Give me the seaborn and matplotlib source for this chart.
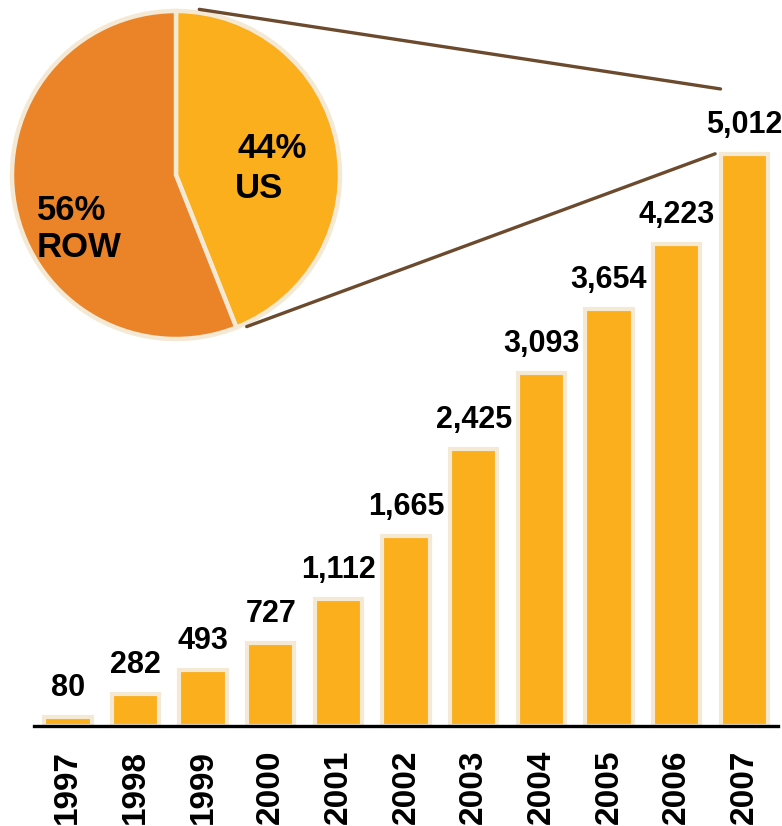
import matplotlib
matplotlib.use("Agg")
import matplotlib.pyplot as plt
import seaborn as sns
import numpy as np
from matplotlib.patches import ConnectionPatch

# Yearly totals
years = ["1997", "1998", "1999", "2000", "2001", "2002", "2003", "2004", "2005", "2006", "2007"]
totals = [80, 282, 493, 727, 1112, 1665, 2425, 3093, 3654, 4223, 5012]

# Share of the latest year
share_labels = ["US", "ROW"]
share_values = [44, 56]

BAR_COLOR = "#FBAF1D"
ROW_COLOR = "#EB8329"
EDGE_COLOR = "#F4E9D5"
LINK_COLOR = "#6B4A2E"

sns.set_style("white")
plt.rcParams["font.family"] = ["Liberation Sans", "DejaVu Sans"]
plt.rcParams["font.weight"] = "bold"
plt.rcParams["text.color"] = "black"
plt.rcParams["xtick.color"] = "black"
plt.rcParams["xtick.labelcolor"] = "black"

fig = plt.figure(figsize=(7.82, 8.26), dpi=100)

# ---- bar chart ----
ax = fig.add_axes([0.0435, 0.1211, 0.9514, 0.7712])
sns.barplot(x=years, y=totals, color=BAR_COLOR, saturation=1, width=0.7,
            edgecolor=EDGE_COLOR, linewidth=3, ax=ax)
ax.set_xlim(-0.5, len(years) - 0.5)
ax.set_ylim(0, 5580)
for s in ["top", "right", "left"]:
    ax.spines[s].set_visible(False)
ax.spines["bottom"].set_color("black")
ax.spines["bottom"].set_linewidth(2.4)
ax.spines["bottom"].set_zorder(5)
ax.set_yticks([])
ax.set_xlabel("")
ax.set_ylabel("")
ax.tick_params(axis="x", length=0, pad=17, labelcolor="black")
for lbl in ax.get_xticklabels():
    lbl.set_rotation(90)
    lbl.set_fontsize(24)
    lbl.set_fontweight("bold")
    lbl.set_color("black")
    lbl.set_va("top")
    lbl.set_ha("center")

for i, v in enumerate(totals):
    ax.annotate(f"{v:,}", xy=(i, v), xytext=(0, 15), textcoords="offset points",
                ha="center", va="baseline", fontsize=22, fontweight="bold", color="black")

# ---- pie of the latest year ----
cx, cy, r = 176, 175, 164
W, H = 782, 826
pax = fig.add_axes([(cx - r) / W, (H - cy - r) / H, 2 * r / W, 2 * r / H])
pax.pie(share_values, colors=[BAR_COLOR, ROW_COLOR], startangle=90, counterclock=False,
        radius=1, wedgeprops=dict(edgecolor=EDGE_COLOR, linewidth=3.2))
pax.set_xlim(-1, 1)
pax.set_ylim(-1, 1)
pax.set_aspect("equal")
pax.axis("off")

tkw = dict(ha="left", va="baseline", fontsize=25, fontweight="bold", color="black")
pax.text(0.372, 0.104, f"{share_values[0]}%", **tkw)
pax.text(0.36, -0.140, share_labels[0], **tkw)
pax.text(-0.848, -0.274, f"{share_values[1]}%", **tkw)
pax.text(-0.848, -0.50, share_labels[1], **tkw)

# ---- connectors from the US slice to the last bar ----
last = len(years) - 1
bar_left = last - 0.35
a_top = np.deg2rad(82)
a_bot = np.deg2rad(-65)
rr = 1.02
con1 = ConnectionPatch(xyA=(rr * np.cos(a_top), rr * np.sin(a_top)), coordsA=pax.transData,
                       xyB=(bar_left, 1.0), coordsB=ax.get_xaxis_transform(),
                       color=LINK_COLOR, linewidth=2.4)
con2 = ConnectionPatch(xyA=(rr * np.cos(a_bot), rr * np.sin(a_bot)), coordsA=pax.transData,
                       xyB=(bar_left - 0.08, totals[-1]), coordsB=ax.transData,
                       color=LINK_COLOR, linewidth=2.4)
fig.add_artist(con1)
fig.add_artist(con2)

fig.savefig("out.png", dpi=100)
